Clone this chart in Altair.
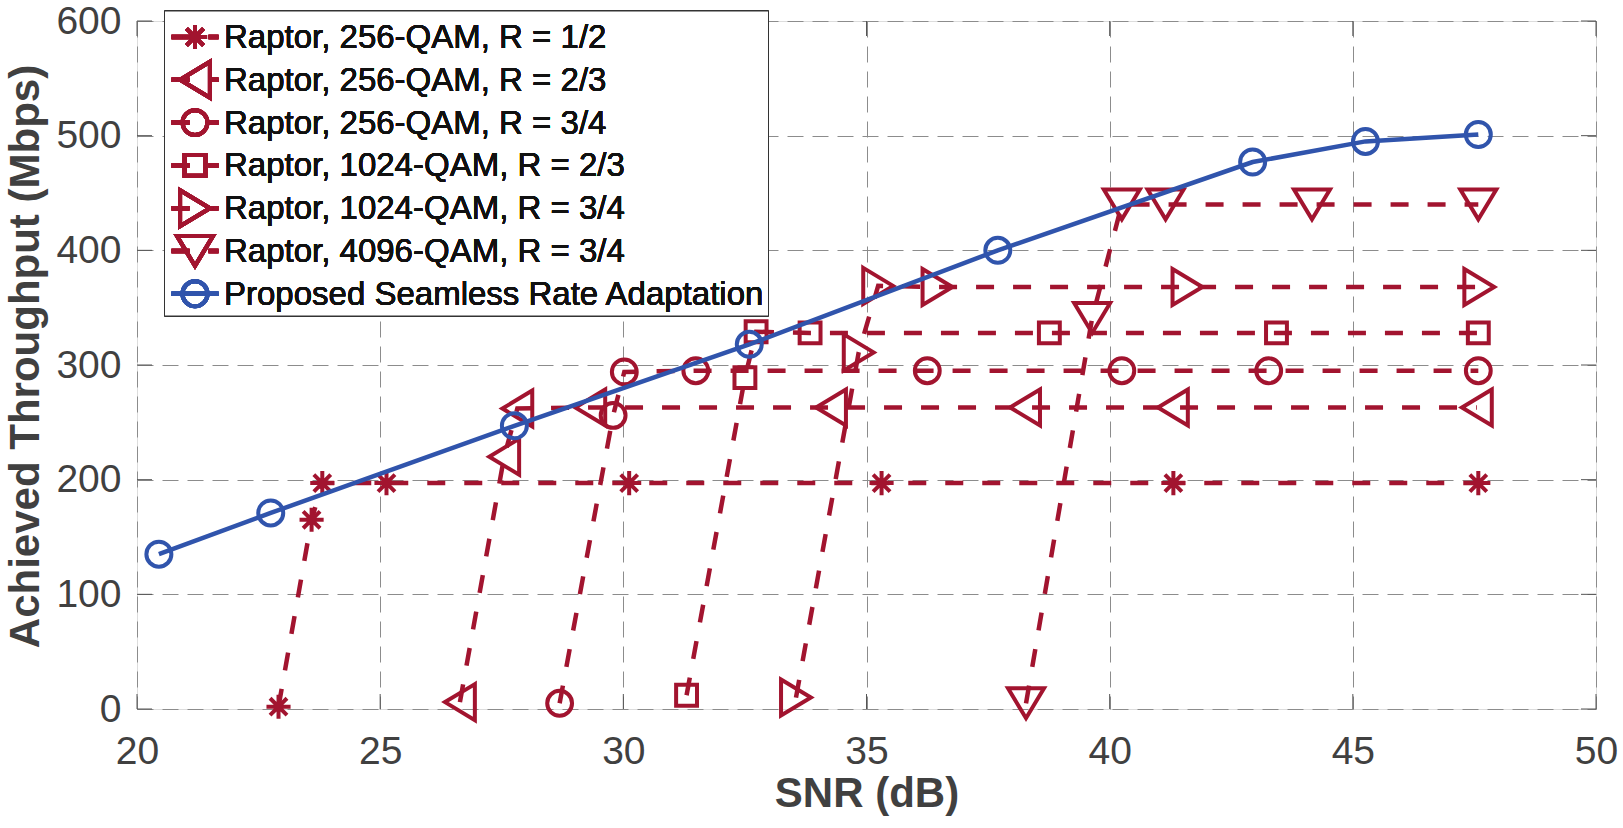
import altair as alt
import pandas as pd

# ---------------- data ----------------
names = [
    "Raptor, 256-QAM, R = 1/2",
    "Raptor, 256-QAM, R = 2/3",
    "Raptor, 256-QAM, R = 3/4",
    "Raptor, 1024-QAM, R = 2/3",
    "Raptor, 1024-QAM, R = 3/4",
    "Raptor, 4096-QAM, R = 3/4",
    "Proposed Seamless Rate Adaptation",
]

snr_r1 = [22.91, 23.59, 23.81, 25.13, 30.12, 35.31, 41.31, 47.58]
thr_r1 = [2, 165, 197, 197, 197, 197, 197, 197]
snr_r2 = [26.64, 27.55, 27.82, 29.32, 34.27, 38.26, 41.30, 47.55]
thr_r2 = [6, 220, 262, 263, 263, 263, 263, 263]
snr_r3 = [28.69, 29.79, 30.02, 31.49, 36.25, 40.25, 43.27, 47.58]
thr_r3 = [5, 256, 294, 295, 295, 295, 295, 295]
snr_r4 = [31.30, 32.50, 32.73, 33.84, 38.76, 43.43, 47.58]
thr_r4 = [12, 289, 329, 328, 328, 328, 328]
snr_r5 = [33.55, 34.84, 35.24, 36.46, 41.60, 47.60]
thr_r5 = [10, 311, 369, 368, 368, 368]
snr_r6 = [38.28, 39.64, 40.25, 41.15, 44.16, 47.58]
thr_r6 = [5, 341, 440, 440, 440, 440]
snr_p = [20.45, 22.75, 27.76, 32.59, 37.70, 42.94, 45.26, 47.58]
thr_p = [135, 171, 247, 318, 400, 477, 495, 501]

x_ticks = [20, 25, 30, 35, 40, 45, 50]
y_ticks = [0, 100, 200, 300, 400, 500, 600]

# ---------------- styles ----------------
RED = "#A2142F"
BLUE = "#3054AC"
FONT = "Liberation Sans"
W, H = 1459, 688
DASH = [18, 19]

P_AST = "M-0.67,0L0.67,0M0,-0.67L0,0.67M-0.47,-0.47L0.47,0.47M-0.47,0.47L0.47,-0.47"
P_LEFT = "M0.83,-1L-0.83,0L0.83,1Z"
P_RIGHT = "M-0.83,-1L0.83,0L-0.83,1Z"
P_DOWN = "M-1,-0.83L1,-0.83L0,0.83Z"
P_SQ = "M-0.58,-0.58L0.58,-0.58L0.58,0.58L-0.58,0.58Z"
P_CIRC = "M0.69,0A0.69,0.69,0,1,1,-0.69,0A0.69,0.69,0,1,1,0.69,0Z"
red_shapes = [P_AST, P_LEFT, P_CIRC, P_SQ, P_RIGHT, P_DOWN]
MSIZE = 1296
BSIZE = 625

rows = []
for i, (xs, ys) in enumerate([(snr_r1, thr_r1), (snr_r2, thr_r2), (snr_r3, thr_r3),
                               (snr_r4, thr_r4), (snr_r5, thr_r5), (snr_r6, thr_r6)]):
    for k, (a, b) in enumerate(zip(xs, ys)):
        rows.append({"series": names[i], "snr": a, "thr": b, "k": k})
red_df = pd.DataFrame(rows)
blue_df = pd.DataFrame({"snr": snr_p, "thr": thr_p, "k": list(range(len(snr_p)))})

xscale = alt.Scale(domain=[20, 50], nice=False, zero=False)
yscale = alt.Scale(domain=[0, 600], nice=False)

common = dict(grid=True, gridDash=[16, 9], gridColor="#8c8c8c", gridWidth=1, domain=False,
              ticks=False, labelFontSize=39, labelColor="#404040", labelFont=FONT,
              labelFlush=False, labelOverlap=False,
              titleFont=FONT, titleFontSize=42, titleFontWeight="bold", titleColor="#404040",
              titleBaseline="alphabetic")
xaxis = alt.Axis(values=x_ticks, title="SNR (dB)", labelPadding=23, titleY=97, **common)
yaxis = alt.Axis(values=y_ticks, title="Achieved Throughput (Mbps)", labelPadding=16,
                 titleX=-99, titleY=335, titleAngle=-90, **common)

X = alt.X("snr:Q", scale=xscale, axis=xaxis)
Y = alt.Y("thr:Q", scale=yscale, axis=yaxis)

red_lines = alt.Chart(red_df).mark_line(color=RED, strokeWidth=4.5, strokeDash=DASH).encode(
    x=X, y=Y, detail="series:N", order="k:Q")
red_points = alt.Chart(red_df).mark_point(filled=False, color=RED, strokeWidth=4, size=MSIZE, opacity=1).encode(
    x=X, y=Y,
    shape=alt.Shape("series:N", scale=alt.Scale(domain=names[:6], range=red_shapes), legend=None),
)
blue_line = alt.Chart(blue_df).mark_line(color=BLUE, strokeWidth=4.5).encode(x=X, y=Y, order="k:Q")
blue_points = alt.Chart(blue_df).mark_point(shape="circle", filled=False, color=BLUE, strokeWidth=4,
                                            size=BSIZE, opacity=1).encode(x=X, y=Y)

# inward ticks (MATLAB style)
xt_df = pd.DataFrame({"snr": x_ticks})
yt_df = pd.DataFrame({"thr": y_ticks})
TICK = "#555555"
ticks = [
    alt.Chart(xt_df).mark_rule(color=TICK, strokeWidth=1).encode(
        x=X, y=alt.value(H), y2=alt.value(H - 15)),
    alt.Chart(xt_df).mark_rule(color=TICK, strokeWidth=1).encode(
        x=X, y=alt.value(0), y2=alt.value(15)),
    alt.Chart(yt_df).mark_rule(color=TICK, strokeWidth=1).encode(
        y=Y, x=alt.value(0), x2=alt.value(15)),
    alt.Chart(yt_df).mark_rule(color=TICK, strokeWidth=1).encode(
        y=Y, x=alt.value(W - 15), x2=alt.value(W)),
]

# ---------------- manual legend ----------------
LX0, LX1, LY0, LY1 = 27.5, 631.5, -10, 295
leg = [alt.Chart(xt_df).mark_rect(fill="white", stroke="#333333", strokeWidth=1).encode(
    x=alt.value(LX0), x2=alt.value(LX1), y=alt.value(LY0), y2=alt.value(LY1))]
for i, nm in enumerate(names):
    ry = 16 + 42.8 * i
    if i < 6:
        leg.append(alt.Chart(xt_df).mark_rule(color=RED, strokeWidth=4.5, strokeDash=DASH).encode(
            x=alt.value(34.5), x2=alt.value(81.5), y=alt.value(ry)))
        leg.append(alt.Chart(xt_df).mark_point(shape=red_shapes[i], filled=False, color=RED,
                                               strokeWidth=4, size=MSIZE, opacity=1).encode(
            x=alt.value(58), y=alt.value(ry)))
    else:
        leg.append(alt.Chart(xt_df).mark_rule(color=BLUE, strokeWidth=4.5).encode(
            x=alt.value(34.5), x2=alt.value(81.5), y=alt.value(ry)))
        leg.append(alt.Chart(xt_df).mark_point(shape="circle", filled=False, color=BLUE,
                                               strokeWidth=4, size=BSIZE, opacity=1).encode(
            x=alt.value(58), y=alt.value(ry)))
    leg.append(alt.Chart(xt_df).mark_text(align="left", baseline="middle", font=FONT,
                                          fontSize=33, color="#111111").encode(
        x=alt.value(87), y=alt.value(ry + 1), text=alt.value(nm)))

chart = alt.layer(red_lines, red_points, blue_line, blue_points, *ticks, *leg).properties(
    width=W, height=H,
    autosize=alt.AutoSizeParams(type="none"),
    padding={"left": 137, "top": 21, "right": 27, "bottom": 119},
).configure_view(stroke="#555555", strokeWidth=1).configure(background="white")

chart.save("out.html", embed_options={"renderer": "svg", "actions": False})
